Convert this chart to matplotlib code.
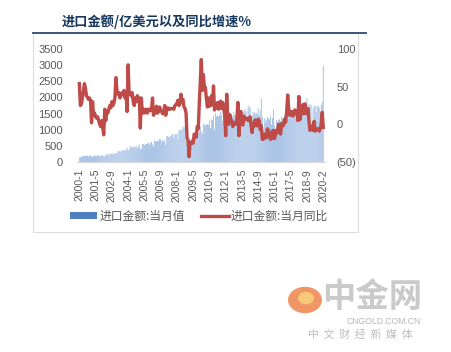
import matplotlib
matplotlib.use("Agg")
import matplotlib.pyplot as plt
from matplotlib.patches import Patch, Rectangle, Circle
from matplotlib.lines import Line2D
from matplotlib.ticker import FuncFormatter, FixedLocator

plt.rcParams['font.family'] = ['Noto Sans CJK SC', 'DejaVu Sans']

title = "进口金额/亿美元以及同比增速%"
bar_label = "进口金额:当月值"
line_label = "进口金额:当月同比"

tick_labels = ["2000-1", "2001-5", "2002-9", "2004-1", "2005-5", "2006-9", "2008-1", "2009-5",
               "2010-9", "2012-1", "2013-5", "2014-9", "2016-1", "2017-5", "2018-9", "2020-2"]

# monthly imports (100m USD), 2000-1 .. 2019-12, then 2020-2 (Jan-Feb combined)
imports_2000 = [150, 140, 180, 175, 180, 185, 185, 200, 190, 175, 200, 205]
imports_2001 = [171, 155, 200, 195, 200, 195, 200, 205, 185, 175, 215, 210]
imports_2002 = [175, 170, 225, 240, 230, 220, 250, 250, 270, 240, 265, 275]
imports_2003 = [290, 250, 340, 340, 320, 330, 360, 340, 380, 350, 380, 440]
imports_2004 = [370, 380, 500, 480, 440, 480, 470, 450, 490, 430, 490, 540]
imports_2005 = [400, 420, 560, 560, 520, 560, 560, 580, 590, 530, 600, 630]
imports_2006 = [540, 480, 670, 640, 640, 650, 660, 710, 700, 620, 680, 660]
imports_2007 = [650, 540, 800, 810, 770, 780, 800, 860, 850, 740, 870, 860]
imports_2008 = [870, 700, 980, 990, 1000, 1010, 1110, 1060, 1110, 930, 750, 720]
imports_2009 = [510, 600, 710, 740, 670, 870, 900, 810, 1060, 870, 950, 1120]
imports_2010 = [950, 870, 1190, 1150, 1130, 1180, 1160, 1150, 1280, 1050, 1310, 1310]
imports_2011 = [1440, 1000, 1520, 1420, 1440, 1410, 1440, 1550, 1450, 1270, 1520, 1570]
imports_2012 = [1140, 1460, 1520, 1450, 1530, 1390, 1450, 1410, 1540, 1430, 1480, 1690]
imports_2013 = [1620, 1230, 1590, 1500, 1550, 1410, 1570, 1640, 1570, 1420, 1690, 1750]
imports_2014 = [1690, 1200, 1450, 1540, 1550, 1500, 1520, 1490, 1660, 1440, 1600, 1970]
imports_2015 = [1400, 1000, 1360, 1240, 1310, 1400, 1340, 1320, 1420, 1160, 1360, 1620]
imports_2016 = [1140, 1030, 1300, 1240, 1310, 1320, 1270, 1400, 1340, 1240, 1420, 1480]
imports_2017 = [1310, 1340, 1640, 1420, 1520, 1490, 1460, 1530, 1670, 1450, 1630, 1730]
imports_2018 = [1830, 1360, 1660, 1640, 1880, 1730, 1790, 1870, 1990, 1650, 1780, 1780]
imports_2019 = [1760, 1140, 1660, 1750, 1740, 1540, 1730, 1740, 1680, 1560, 1770, 1860]
imports_2020 = [2990]

# year-on-year growth (%)
yoy_2000 = [54, 25, 27, 35, 45, 54, 48, 38, 36, 33, 35, 32]
yoy_2001 = [2, 30, 12, 15, 10, 8, 10, 5, 0, -3, 5, -4]
yoy_2002 = [-14, 20, 5, 18, 15, 20, 25, 22, 30, 25, 28, 35]
yoy_2003 = [62, 45, 40, 42, 35, 38, 42, 40, 45, 35, 40, 17]
yoy_2004 = [79, 40, 42, 38, 42, 30, 25, 35, 30, 38, 30, 35]
yoy_2005 = [-5, 35, 15, 20, 15, 20, 20, 15, 20, 20, 18, 20]
yoy_2006 = [35, 12, 20, 15, 24, 15, 18, 23, 18, 17, 14, 16]
yoy_2007 = [25, 12, 20, 22, 20, 20, 21, 21, 21, 20, 25, 26]
yoy_2008 = [28, 32, 25, 27, 40, 31, 33, 23, 21, 15, -18, -21]
yoy_2009 = [-43, -24, -25, -23, -25, -13, -15, -17, -3, -6, 27, 56]
yoy_2010 = [86, 45, 66, 50, 49, 34, 23, 35, 24, 25, 38, 26]
yoy_2011 = [51, 19, 27, 22, 29, 20, 23, 31, 21, 29, 22, 12]
yoy_2012 = [-15, 40, 5, 0, 13, 6, 5, -3, 2, 2, 0, 6]
yoy_2013 = [29, -15, 14, 17, 0, -1, 11, 7, 7, 8, 5, 8]
yoy_2014 = [10, -2, -11, 1, -2, 6, -2, -2, 7, 5, -7, -2]
yoy_2015 = [-20, -20, -13, -16, -18, -6, -8, -14, -20, -19, -9, -8]
yoy_2016 = [-19, -14, -8, -11, 0, -8, -13, 1, -2, -1, 7, 3]
yoy_2017 = [17, 39, 21, 12, 15, 17, 11, 13, 19, 17, 18, 5]
yoy_2018 = [37, 6, 14, 22, 26, 14, 27, 20, 14, 21, 3, -8]
yoy_2019 = [-2, -5, -8, 4, -9, -7, -6, -6, -9, -6, 0, 16]
yoy_2020 = [-4]

imports = (imports_2000 + imports_2001 + imports_2002 + imports_2003 + imports_2004 +
           imports_2005 + imports_2006 + imports_2007 + imports_2008 + imports_2009 +
           imports_2010 + imports_2011 + imports_2012 + imports_2013 + imports_2014 +
           imports_2015 + imports_2016 + imports_2017 + imports_2018 + imports_2019 + imports_2020)
yoy = (yoy_2000 + yoy_2001 + yoy_2002 + yoy_2003 + yoy_2004 + yoy_2005 + yoy_2006 +
       yoy_2007 + yoy_2008 + yoy_2009 + yoy_2010 + yoy_2011 + yoy_2012 + yoy_2013 +
       yoy_2014 + yoy_2015 + yoy_2016 + yoy_2017 + yoy_2018 + yoy_2019 + yoy_2020)

W, H = 452, 352
fig = plt.figure(figsize=(W / 100, H / 100), dpi=100)

def fx(px):
    return px / W

def fy(py):
    return 1 - py / H

# outer light frame
fig.add_artist(Rectangle((fx(33), fy(232)), fx(358) - fx(33), fy(33) - fy(232),
                         transform=fig.transFigure, fill=False, edgecolor='#dcdcdc', lw=0.8))
# title + rule
fig.text(fx(62), fy(22), title, fontsize=9.5, fontweight='bold', color='#17375e',
         ha='left', va='center')
fig.add_artist(Line2D([fx(33), fx(366)], [fy(33), fy(33)], transform=fig.transFigure,
                      color='#2f4a6e', lw=1.3))

left, right, top, bottom = 77, 325.5, 49, 162
ax = fig.add_axes([fx(left), fy(bottom), fx(right) - fx(left), fy(top) - fy(bottom)])
x = list(range(len(imports)))
bars = ax.bar(x, imports, width=0.8, color='#9ab8e2', edgecolor='none', zorder=1)
for b in bars:
    b.set_snap(False)
ax.set_xlim(-2.3, 242.2)
ax.set_ylim(0, 3500)
ax.set_yticks(range(0, 3501, 500))
for s in ['top', 'right', 'left']:
    ax.spines[s].set_visible(False)
ax.spines['bottom'].set_color('#d9d9d9')
ax.tick_params(axis='both', length=0, colors='#595959')
ax.tick_params(axis='y', labelsize=8, pad=10)
tick_pos = [i * 16 for i in range(len(tick_labels))]
ax.xaxis.set_major_locator(FixedLocator(tick_pos))
ax.set_xticklabels(tick_labels, rotation=90, fontsize=7.5, family='Liberation Sans')
ax.tick_params(axis='x', pad=5)
for lab in ax.get_yticklabels():
    lab.set_family('Liberation Sans')

ax2 = ax.twinx()
ax2.plot(x, yoy, color='#be4b48', lw=2.4, zorder=3)
ax2.set_ylim(-50, 100)
ax2.set_yticks([-50, 0, 50, 100])
ax2.yaxis.set_major_formatter(FuncFormatter(lambda v, p: f"({abs(int(v))})" if v < 0 else f"{int(v)}"))
for s in ['top', 'right', 'left', 'bottom']:
    ax2.spines[s].set_visible(False)
ax2.tick_params(axis='y', length=0, colors='#595959', labelsize=8, pad=8)
for lab in ax2.get_yticklabels():
    lab.set_family('Liberation Sans')

handles = [Patch(facecolor='#4f7fbf', edgecolor='none'),
           Line2D([0], [0], color='#be4b48', lw=2.4)]
leg = fig.legend(handles, [bar_label, line_label], loc='center', ncol=2,
                 bbox_to_anchor=(fx(199), fy(216)), frameon=False, fontsize=8.5,
                 handlelength=2.3, handleheight=0.55, handletextpad=0.2, columnspacing=1.4,
                 labelcolor='#595959')

# watermark
fig.add_artist(Circle((fx(305), fy(300)), 17 / W, transform=fig.transFigure,
                      facecolor='#ef8a55', edgecolor='none', alpha=0.9))
fig.add_artist(Circle((fx(306), fy(298)), 8 / W, transform=fig.transFigure,
                      facecolor='#f7cf7a', edgecolor='none', alpha=0.9))
fig.text(fx(372), fy(298), "中金网", fontsize=24, color='#cacaca', ha='center', va='center',
         fontweight='bold')
fig.text(fx(384), fy(321), "CNGOLD.COM.CN", fontsize=6.2, color='#b8b8b8', ha='center',
         va='center', family='Liberation Sans')
fig.text(fx(360), fy(335), "中  文  财  经  新  媒  体", fontsize=7.8, color='#bdbdbd', ha='center',
         va='center')

fig.savefig("out.png", dpi=100)
